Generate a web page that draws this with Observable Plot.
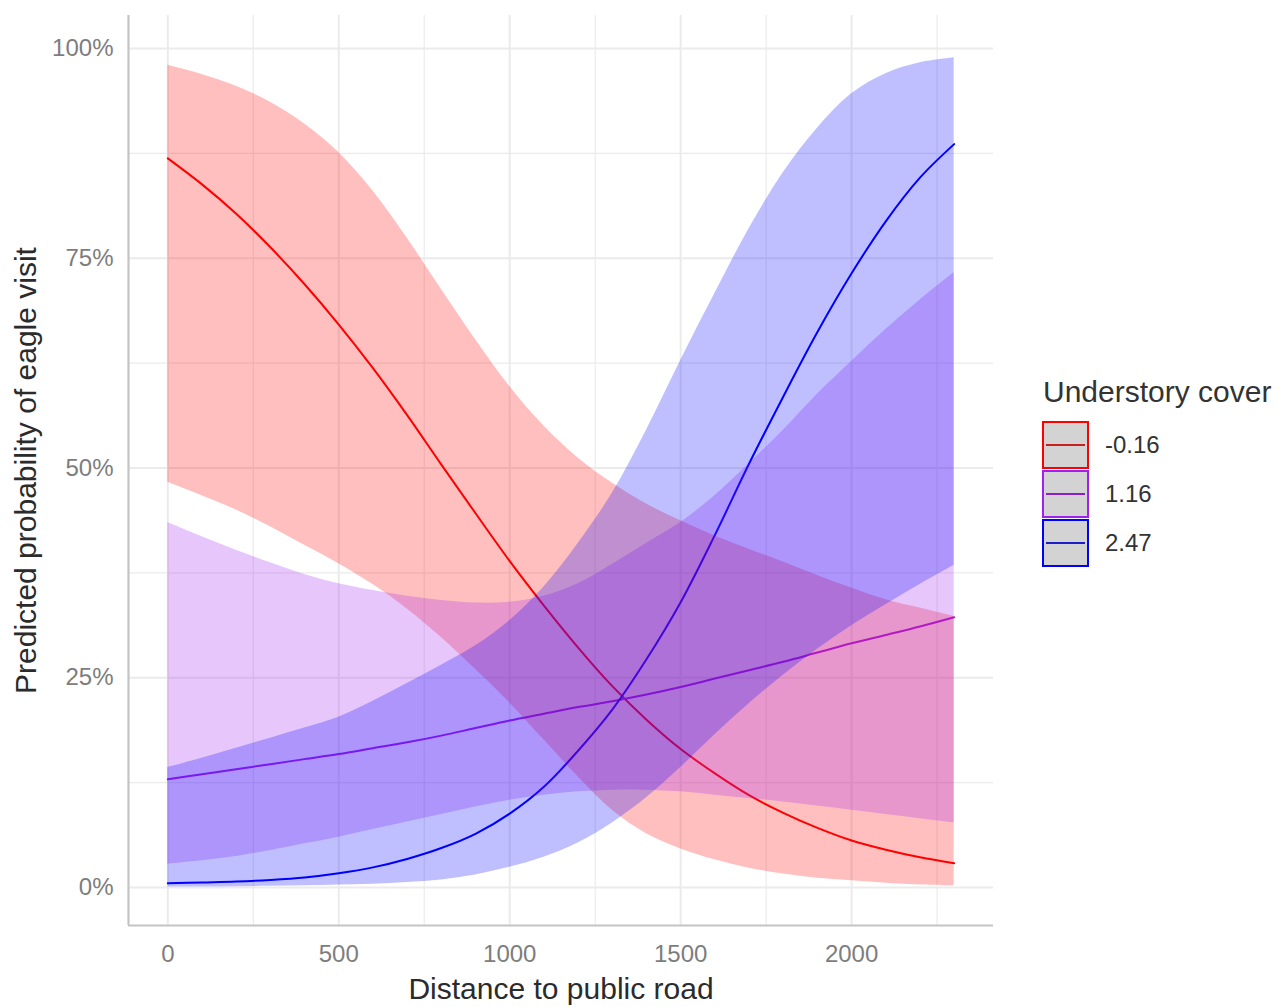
<!DOCTYPE html>
<html><head><meta charset="utf-8">
<script src="https://cdn.jsdelivr.net/npm/d3@7"></script>
<script src="https://cdn.jsdelivr.net/npm/@observablehq/plot@0.6"></script>
<style>
html,body{margin:0;padding:0;background:#fff;}
#wrap{position:relative;width:1282px;height:1007px;font-family:"Liberation Sans",Arial,sans-serif;overflow:hidden;}
#chart{position:absolute;left:0;top:0;}
.lg-title{position:absolute;left:1043px;top:377px;font-size:30px;line-height:30px;color:#333;white-space:nowrap;}
.lg-key{position:absolute;left:1042px;width:47px;height:48px;border:2.5px solid;background:#d3d3d3;box-sizing:border-box;}
.lg-key span{position:absolute;left:2px;right:2px;top:50%;height:2px;margin-top:-1px;}
.lg-label{position:absolute;left:1105px;font-size:24px;line-height:24px;color:#333;white-space:nowrap;}
</style>
</head><body>
<div id="wrap"><div id="chart"></div></div>
<script>
// ---- data ----
const distance = [0,100,200,300,400,500,600,700,800,900,1000,1100,1200,1300,1400,1500,1600,1700,1800,1900,2000,2100,2200,2300];

const coverLevels = ["-0.16", "1.16", "2.47"];
const coverColors = ["#ff0000", "#a020f0", "#0000ff"];
const keyLineColors = ["#c81e1e", "#8a1ec8", "#1e1ec8"];

// -0.16
const redFit = [0.869,0.838,0.803,0.763,0.719,0.671,0.619,0.563,0.504,0.446,0.389,0.336,0.286,0.240,0.200,0.165,0.136,0.110,0.089,0.071,0.056,0.045,0.036,0.029];
const redLo  = [0.483,0.467,0.450,0.430,0.408,0.386,0.361,0.332,0.298,0.260,0.220,0.176,0.132,0.092,0.064,0.046,0.033,0.023,0.016,0.011,0.008,0.005,0.003,0.002];
const redHi  = [0.980,0.969,0.955,0.936,0.910,0.876,0.830,0.774,0.713,0.653,0.597,0.550,0.512,0.482,0.457,0.437,0.419,0.403,0.388,0.372,0.357,0.343,0.333,0.323];
// 1.16
const purpleFit = [0.129,0.135,0.141,0.147,0.153,0.159,0.166,0.173,0.181,0.190,0.199,0.207,0.215,0.222,0.230,0.239,0.249,0.259,0.269,0.280,0.291,0.301,0.311,0.322];
const purpleLo  = [0.028,0.032,0.037,0.044,0.052,0.060,0.069,0.078,0.087,0.096,0.104,0.110,0.114,0.116,0.116,0.114,0.110,0.106,0.102,0.097,0.092,0.087,0.082,0.077];
const purpleHi  = [0.435,0.418,0.402,0.387,0.373,0.362,0.354,0.347,0.342,0.339,0.340,0.347,0.362,0.385,0.410,0.435,0.467,0.505,0.545,0.588,0.627,0.665,0.700,0.733];
// 2.47
const blueFit = [0.005,0.006,0.007,0.009,0.012,0.017,0.024,0.034,0.047,0.064,0.088,0.120,0.163,0.212,0.272,0.340,0.420,0.505,0.585,0.662,0.732,0.794,0.846,0.886];
const blueLo  = [0.0005,0.0007,0.001,0.0015,0.002,0.003,0.004,0.006,0.009,0.015,0.024,0.036,0.053,0.077,0.107,0.143,0.182,0.219,0.253,0.284,0.312,0.337,0.361,0.384];
const blueHi  = [0.143,0.154,0.166,0.178,0.190,0.203,0.222,0.243,0.265,0.288,0.318,0.358,0.410,0.470,0.545,0.628,0.708,0.785,0.852,0.905,0.946,0.970,0.983,0.989];

const xMajor = [0,500,1000,1500,2000];
const xMinor = [250,750,1250,1750,2250];
const yMajor = [0,0.25,0.5,0.75,1];
const yMinor = [0.125,0.375,0.625,0.875];
const xDomain = [-115, 2415];
const yDomain = [-0.0453, 1.0393];

// ---- build table ----
const seriesSets = [
  [coverLevels[0], redFit, redLo, redHi],
  [coverLevels[1], purpleFit, purpleLo, purpleHi],
  [coverLevels[2], blueFit, blueLo, blueHi]
];
const rows = [];
for (const [level, fit, lo, hi] of seriesSets) {
  distance.forEach((d, i) => rows.push({series: level, x: d, fit: fit[i], lo: lo[i], hi: hi[i]}));
}

const gridColor = "#ebebeb";
const chart = Plot.plot({
  width: 1010,
  height: 1007,
  marginLeft: 128,
  marginRight: 17,
  marginTop: 15,
  marginBottom: 82,
  style: {fontFamily: "'Liberation Sans', Arial, sans-serif", background: "#fff"},
  x: {domain: xDomain},
  y: {domain: yDomain},
  color: {domain: coverLevels, range: coverColors},
  marks: [
    Plot.ruleY(yMinor, {stroke: gridColor, strokeWidth: 1.2}),
    Plot.ruleX(xMinor, {stroke: gridColor, strokeWidth: 1.2}),
    Plot.ruleY(yMajor, {stroke: gridColor, strokeWidth: 2}),
    Plot.ruleX(xMajor, {stroke: gridColor, strokeWidth: 2}),
    Plot.ruleX([xDomain[0]], {stroke: "#c4c4c4", strokeWidth: 2.2}),
    Plot.ruleY([yDomain[0]], {stroke: "#c4c4c4", strokeWidth: 2.2}),
    Plot.line(rows, {x: "x", y: "fit", z: "series", stroke: "series", strokeWidth: 2, curve: "catmull-rom"}),
    Plot.areaY(rows, {x: "x", y1: "lo", y2: "hi", z: "series", fill: "series", fillOpacity: 0.25, curve: "catmull-rom"}),
    Plot.axisX(xMajor, {tickSize: 0, tickPadding: 19, fontSize: 24, fill: "#7d7d7d", label: null, tickFormat: d => String(d)}),
    Plot.axisY(yMajor, {tickSize: 0, tickPadding: 15, fontSize: 24, fill: "#7d7d7d", label: null, tickFormat: d => Math.round(d * 100) + "%"}),
    Plot.text(["Distance to public road"], {frameAnchor: "bottom", lineAnchor: "top", dy: 52, fontSize: 30, fill: "#2b2b2b"}),
    Plot.text(["Predicted probability of eagle visit"], {frameAnchor: "left", rotate: -90, textAnchor: "middle", lineAnchor: "middle", dx: -102, fontSize: 30, fill: "#2b2b2b"})
  ]
});
document.getElementById("chart").appendChild(chart);

// ---- legend ----
const wrap = document.getElementById("wrap");
const t = document.createElement("div");
t.className = "lg-title";
t.textContent = "Understory cover";
wrap.appendChild(t);
const keyTops = [421, 470, 519];
coverLevels.forEach((lev, i) => {
  const k = document.createElement("div");
  k.className = "lg-key";
  k.style.top = keyTops[i] + "px";
  k.style.borderColor = coverColors[i];
  const s = document.createElement("span");
  s.style.background = keyLineColors[i];
  k.appendChild(s);
  wrap.appendChild(k);
  const l = document.createElement("div");
  l.className = "lg-label";
  l.style.top = (keyTops[i] + 24 - 11.7) + "px";
  l.textContent = lev;
  wrap.appendChild(l);
});
</script>
</body></html>
